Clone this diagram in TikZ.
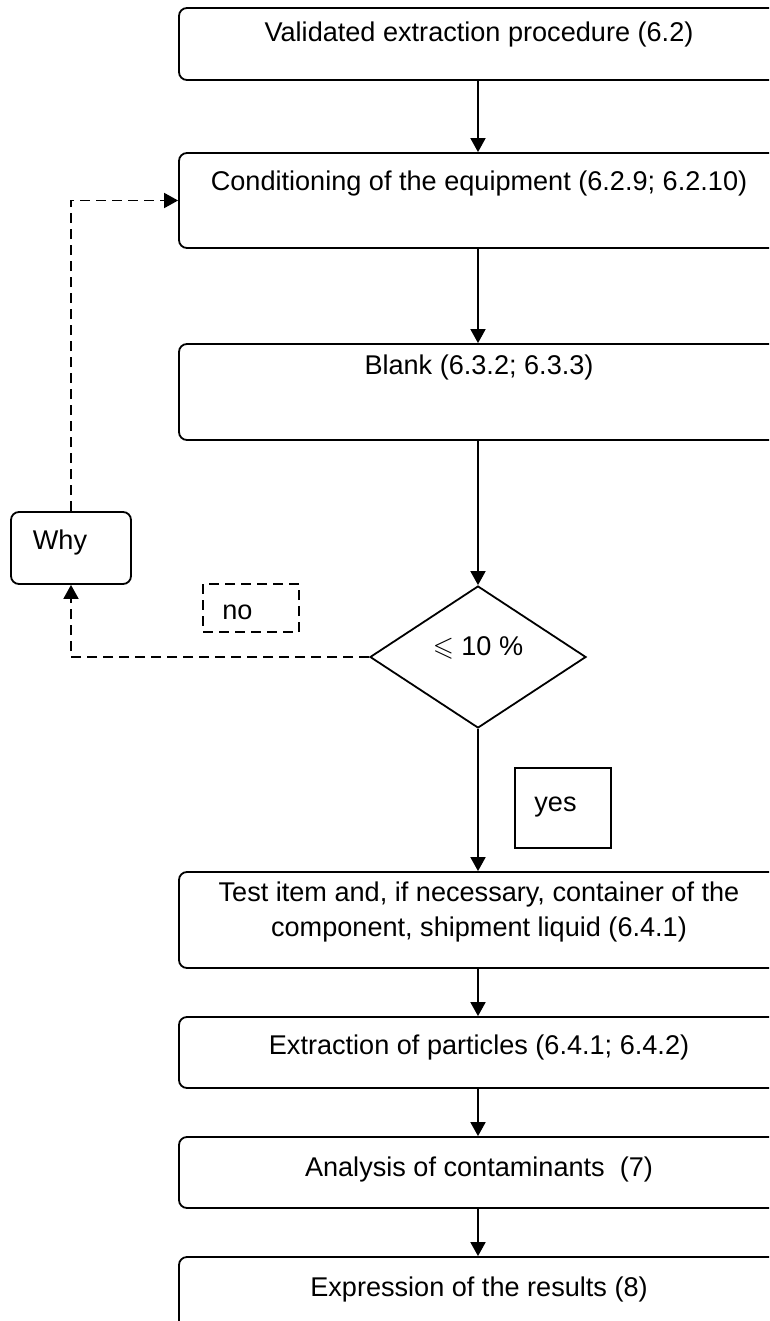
\documentclass[tikz,border=0pt]{standalone}
\usepackage{fontspec}
\setmainfont{Liberation Sans}
\usepackage{amssymb}
\usetikzlibrary{shapes.geometric,arrows.meta}
\begin{document}
\begin{tikzpicture}[x=1pt,y=-1pt,
  lw/.style={line width=1.8pt},
  box/.style={draw, lw, rounded corners=8pt, minimum width=598pt, inner sep=0pt},
  txt/.style={anchor=base, inner sep=0pt, font=\fontsize{27.1}{35}\selectfont},
  flow/.style={lw, -{Triangle[length=14pt,width=15pt]}},
  back/.style={lw, dash pattern=on 10pt off 6pt, -{Triangle[length=14pt,width=15pt]}},
  tag/.style={draw, lw, inner sep=0pt}
]
\path[use as bounding box, clip] (0,0) rectangle (769,1321);
\fill[white] (0,0) rectangle (769,1321);

% main boxes
\node[box, minimum height=72pt] (b1) at (478,44) {};
\node[box, minimum height=95pt] (b2) at (478,200.5) {};
\node[box, minimum height=96pt] (b3) at (478,392) {};
\node[box, minimum height=96pt] (b4) at (478,920) {};
\node[box, minimum height=71pt] (b5) at (478,1052.5) {};
\node[box, minimum height=71pt] (b6) at (478,1172.5) {};
\node[box, minimum height=103pt] (b7) at (478,1308.5) {};

\node[txt] (t1) at (479,42) {Validated extraction procedure (6.2)};
\node[txt] (t2) at (479,191) {Conditioning of the equipment (6.2.9; 6.2.10)};
\node[txt] (t3) at (479,374) {Blank (6.3.2; 6.3.3)};
\node[txt] (t4a) at (479,901) {Test item and, if necessary, container of the};
\node[txt] (t4b) at (479,936) {component, shipment liquid (6.4.1)};
\node[txt] (t5) at (479,1054) {Extraction of particles (6.4.1; 6.4.2)};
\node[txt] (t6) at (479,1176) {Analysis of contaminants\ \ (7)};
\node[txt] (t7) at (479,1296) {Expression of the results (8)};

% decision
\node[draw, lw, diamond, minimum width=216pt, minimum height=142pt, inner sep=0pt] (dia) at (478,657) {};
\node[txt] (tdia) at (478,655) {$\leqslant$ 10 \%};

% side boxes
\node[draw, lw, rounded corners=8pt, minimum width=120pt, minimum height=72pt, inner sep=0pt] (why) at (71,548) {};
\node[txt] (twhy) at (60,549) {Why};
\node[tag, dash pattern=on 10pt off 6pt, minimum width=96pt, minimum height=48pt] (notag) at (251,608) {};
\node[txt] (tno) at (237.5,619) {no};
\node[tag, minimum width=96pt, minimum height=80pt] (yestag) at (563,808) {};
\node[txt] (tyes) at (555.5,811) {yes};

% connectors
\draw[flow] (b1.south) -- (b2.north);
\draw[flow] (b2.south) -- (b3.north);
\draw[flow] (b3.south) -- (dia.north);
\draw[flow] (dia.south) -- (b4.north);
\draw[flow] (b4.south) -- (b5.north);
\draw[flow] (b5.south) -- (b6.north);
\draw[flow] (b6.south) -- (b7.north);
\draw[back] (dia.west) -| (why.south);
\draw[back] (why.north) |- (b2.west);
\end{tikzpicture}
\end{document}
